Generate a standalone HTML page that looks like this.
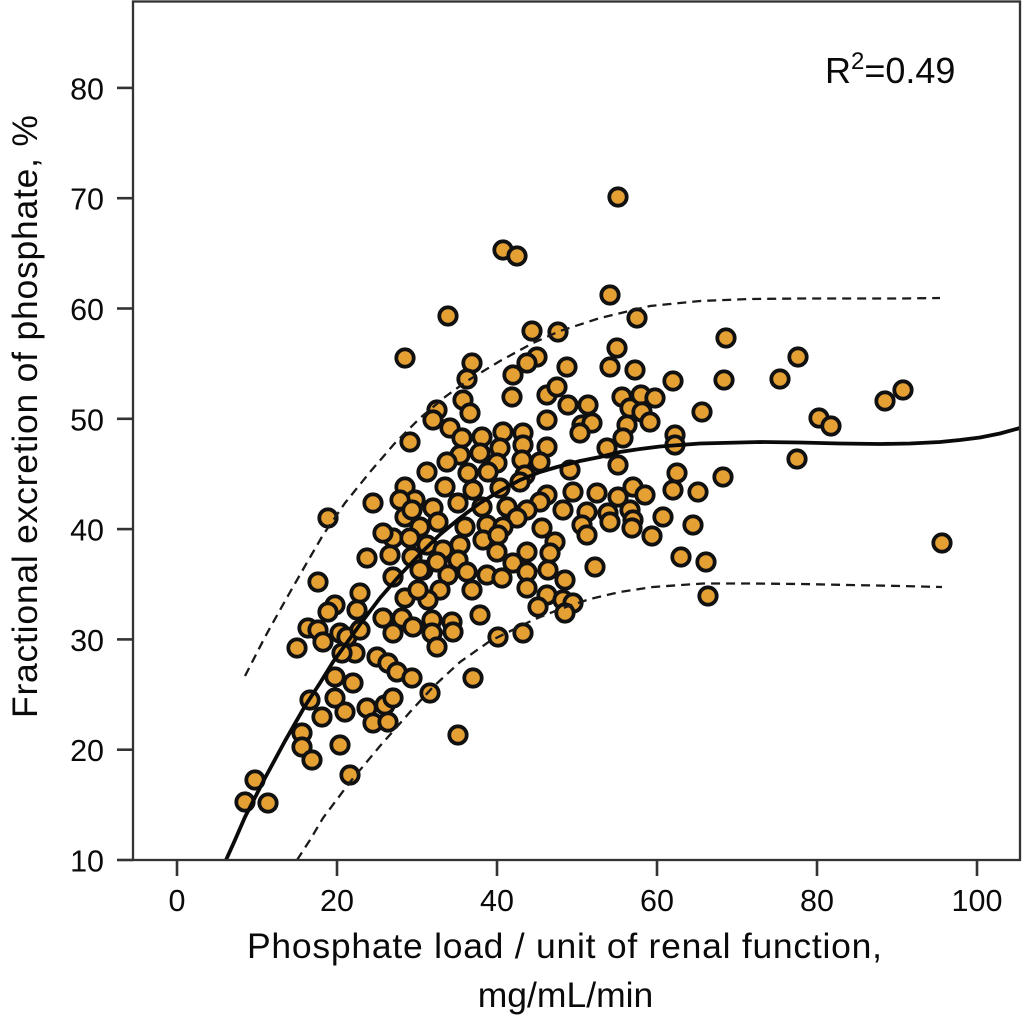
<!DOCTYPE html>
<html>
<head>
<meta charset="utf-8">
<style>
  html,body{margin:0;padding:0;background:#fff;}
  svg{display:block;}
  text{font-family:"Liberation Sans", Arial, sans-serif; fill:#0a0a0a;}
</style>
</head>
<body>
<svg width="1024" height="1022" viewBox="0 0 1024 1022" xmlns="http://www.w3.org/2000/svg">
  <rect x="0" y="0" width="1024" height="1022" fill="#fff"/>

  <g fill="#E5A034" stroke="#111" stroke-width="3.8">
    <circle cx="618" cy="197" r="8.7"/>
    <circle cx="503" cy="250" r="8.7"/>
    <circle cx="517" cy="256" r="8.7"/>
    <circle cx="610" cy="295" r="8.7"/>
    <circle cx="448" cy="316" r="8.7"/>
    <circle cx="532" cy="331" r="8.7"/>
    <circle cx="558" cy="332" r="8.7"/>
    <circle cx="637" cy="318" r="8.7"/>
    <circle cx="405" cy="358" r="8.7"/>
    <circle cx="472" cy="363" r="8.7"/>
    <circle cx="467" cy="379" r="8.7"/>
    <circle cx="537" cy="357" r="8.7"/>
    <circle cx="527" cy="363" r="8.7"/>
    <circle cx="513" cy="375" r="8.7"/>
    <circle cx="567" cy="367" r="8.7"/>
    <circle cx="617" cy="348" r="8.7"/>
    <circle cx="610" cy="367" r="8.7"/>
    <circle cx="635" cy="370" r="8.7"/>
    <circle cx="512" cy="397" r="8.7"/>
    <circle cx="547" cy="395" r="8.7"/>
    <circle cx="557" cy="387" r="8.7"/>
    <circle cx="568" cy="405" r="8.7"/>
    <circle cx="588" cy="405" r="8.7"/>
    <circle cx="463" cy="400" r="8.7"/>
    <circle cx="470" cy="413" r="8.7"/>
    <circle cx="437" cy="410" r="8.7"/>
    <circle cx="433" cy="420" r="8.7"/>
    <circle cx="410" cy="442" r="8.7"/>
    <circle cx="450" cy="428" r="8.7"/>
    <circle cx="462" cy="438" r="8.7"/>
    <circle cx="582" cy="425" r="8.7"/>
    <circle cx="592" cy="423" r="8.7"/>
    <circle cx="580" cy="433" r="8.7"/>
    <circle cx="622" cy="397" r="8.7"/>
    <circle cx="630" cy="408" r="8.7"/>
    <circle cx="627" cy="425" r="8.7"/>
    <circle cx="623" cy="438" r="8.7"/>
    <circle cx="607" cy="448" r="8.7"/>
    <circle cx="618" cy="465" r="8.7"/>
    <circle cx="482" cy="437" r="8.7"/>
    <circle cx="503" cy="432" r="8.7"/>
    <circle cx="523" cy="433" r="8.7"/>
    <circle cx="547" cy="420" r="8.7"/>
    <circle cx="547" cy="447" r="8.7"/>
    <circle cx="523" cy="445" r="8.7"/>
    <circle cx="500" cy="448" r="8.7"/>
    <circle cx="480" cy="453" r="8.7"/>
    <circle cx="460" cy="455" r="8.7"/>
    <circle cx="447" cy="462" r="8.7"/>
    <circle cx="540" cy="462" r="8.7"/>
    <circle cx="522" cy="460" r="8.7"/>
    <circle cx="497" cy="463" r="8.7"/>
    <circle cx="570" cy="470" r="8.7"/>
    <circle cx="427" cy="472" r="8.7"/>
    <circle cx="468" cy="473" r="8.7"/>
    <circle cx="488" cy="472" r="8.7"/>
    <circle cx="525" cy="475" r="8.7"/>
    <circle cx="405" cy="487" r="8.7"/>
    <circle cx="445" cy="487" r="8.7"/>
    <circle cx="473" cy="490" r="8.7"/>
    <circle cx="500" cy="488" r="8.7"/>
    <circle cx="520" cy="482" r="8.7"/>
    <circle cx="547" cy="495" r="8.7"/>
    <circle cx="573" cy="492" r="8.7"/>
    <circle cx="597" cy="493" r="8.7"/>
    <circle cx="618" cy="497" r="8.7"/>
    <circle cx="633" cy="487" r="8.7"/>
    <circle cx="630" cy="510" r="8.7"/>
    <circle cx="608" cy="513" r="8.7"/>
    <circle cx="587" cy="512" r="8.7"/>
    <circle cx="563" cy="510" r="8.7"/>
    <circle cx="540" cy="502" r="8.7"/>
    <circle cx="527" cy="510" r="8.7"/>
    <circle cx="507" cy="507" r="8.7"/>
    <circle cx="482" cy="507" r="8.7"/>
    <circle cx="458" cy="503" r="8.7"/>
    <circle cx="433" cy="508" r="8.7"/>
    <circle cx="415" cy="500" r="8.7"/>
    <circle cx="405" cy="517" r="8.7"/>
    <circle cx="438" cy="522" r="8.7"/>
    <circle cx="465" cy="527" r="8.7"/>
    <circle cx="487" cy="525" r="8.7"/>
    <circle cx="517" cy="518" r="8.7"/>
    <circle cx="542" cy="528" r="8.7"/>
    <circle cx="582" cy="525" r="8.7"/>
    <circle cx="633" cy="520" r="8.7"/>
    <circle cx="420" cy="527" r="8.7"/>
    <circle cx="328" cy="518" r="8.7"/>
    <circle cx="373" cy="503" r="8.7"/>
    <circle cx="400" cy="500" r="8.7"/>
    <circle cx="412" cy="510" r="8.7"/>
    <circle cx="393" cy="538" r="8.7"/>
    <circle cx="410" cy="538" r="8.7"/>
    <circle cx="942" cy="543" r="8.7"/>
    <circle cx="903" cy="390" r="8.7"/>
    <circle cx="885" cy="401" r="8.7"/>
    <circle cx="798" cy="357" r="8.7"/>
    <circle cx="780" cy="379" r="8.7"/>
    <circle cx="819" cy="418" r="8.7"/>
    <circle cx="831" cy="426" r="8.7"/>
    <circle cx="797" cy="459" r="8.7"/>
    <circle cx="726" cy="338" r="8.7"/>
    <circle cx="724" cy="380" r="8.7"/>
    <circle cx="702" cy="412" r="8.7"/>
    <circle cx="673" cy="381" r="8.7"/>
    <circle cx="641" cy="395" r="8.7"/>
    <circle cx="655" cy="398" r="8.7"/>
    <circle cx="642" cy="412" r="8.7"/>
    <circle cx="650" cy="422" r="8.7"/>
    <circle cx="675" cy="435" r="8.7"/>
    <circle cx="675" cy="445" r="8.7"/>
    <circle cx="677" cy="473" r="8.7"/>
    <circle cx="673" cy="490" r="8.7"/>
    <circle cx="698" cy="492" r="8.7"/>
    <circle cx="723" cy="477" r="8.7"/>
    <circle cx="645" cy="495" r="8.7"/>
    <circle cx="663" cy="517" r="8.7"/>
    <circle cx="632" cy="528" r="8.7"/>
    <circle cx="652" cy="536" r="8.7"/>
    <circle cx="693" cy="525" r="8.7"/>
    <circle cx="681" cy="557" r="8.7"/>
    <circle cx="706" cy="562" r="8.7"/>
    <circle cx="708" cy="596" r="8.7"/>
    <circle cx="503" cy="527" r="8.7"/>
    <circle cx="587" cy="535" r="8.7"/>
    <circle cx="610" cy="522" r="8.7"/>
    <circle cx="595" cy="567" r="8.7"/>
    <circle cx="427" cy="545" r="8.7"/>
    <circle cx="443" cy="550" r="8.7"/>
    <circle cx="460" cy="545" r="8.7"/>
    <circle cx="483" cy="540" r="8.7"/>
    <circle cx="498" cy="535" r="8.7"/>
    <circle cx="497" cy="552" r="8.7"/>
    <circle cx="527" cy="552" r="8.7"/>
    <circle cx="555" cy="542" r="8.7"/>
    <circle cx="550" cy="553" r="8.7"/>
    <circle cx="423" cy="570" r="8.7"/>
    <circle cx="437" cy="562" r="8.7"/>
    <circle cx="458" cy="560" r="8.7"/>
    <circle cx="448" cy="575" r="8.7"/>
    <circle cx="467" cy="572" r="8.7"/>
    <circle cx="487" cy="575" r="8.7"/>
    <circle cx="502" cy="578" r="8.7"/>
    <circle cx="513" cy="563" r="8.7"/>
    <circle cx="527" cy="572" r="8.7"/>
    <circle cx="548" cy="570" r="8.7"/>
    <circle cx="565" cy="580" r="8.7"/>
    <circle cx="440" cy="590" r="8.7"/>
    <circle cx="428" cy="600" r="8.7"/>
    <circle cx="472" cy="590" r="8.7"/>
    <circle cx="527" cy="588" r="8.7"/>
    <circle cx="547" cy="595" r="8.7"/>
    <circle cx="563" cy="600" r="8.7"/>
    <circle cx="573" cy="603" r="8.7"/>
    <circle cx="565" cy="613" r="8.7"/>
    <circle cx="538" cy="607" r="8.7"/>
    <circle cx="480" cy="615" r="8.7"/>
    <circle cx="432" cy="620" r="8.7"/>
    <circle cx="452" cy="622" r="8.7"/>
    <circle cx="432" cy="633" r="8.7"/>
    <circle cx="453" cy="632" r="8.7"/>
    <circle cx="437" cy="647" r="8.7"/>
    <circle cx="498" cy="637" r="8.7"/>
    <circle cx="523" cy="633" r="8.7"/>
    <circle cx="473" cy="678" r="8.7"/>
    <circle cx="430" cy="693" r="8.7"/>
    <circle cx="458" cy="735" r="8.7"/>
    <circle cx="383" cy="533" r="8.7"/>
    <circle cx="390" cy="555" r="8.7"/>
    <circle cx="412" cy="557" r="8.7"/>
    <circle cx="393" cy="577" r="8.7"/>
    <circle cx="420" cy="570" r="8.7"/>
    <circle cx="405" cy="598" r="8.7"/>
    <circle cx="418" cy="590" r="8.7"/>
    <circle cx="402" cy="618" r="8.7"/>
    <circle cx="367" cy="558" r="8.7"/>
    <circle cx="318" cy="582" r="8.7"/>
    <circle cx="335" cy="605" r="8.7"/>
    <circle cx="328" cy="612" r="8.7"/>
    <circle cx="360" cy="593" r="8.7"/>
    <circle cx="357" cy="610" r="8.7"/>
    <circle cx="308" cy="628" r="8.7"/>
    <circle cx="318" cy="630" r="8.7"/>
    <circle cx="323" cy="642" r="8.7"/>
    <circle cx="297" cy="648" r="8.7"/>
    <circle cx="340" cy="633" r="8.7"/>
    <circle cx="347" cy="637" r="8.7"/>
    <circle cx="360" cy="630" r="8.7"/>
    <circle cx="355" cy="653" r="8.7"/>
    <circle cx="342" cy="653" r="8.7"/>
    <circle cx="377" cy="657" r="8.7"/>
    <circle cx="383" cy="618" r="8.7"/>
    <circle cx="393" cy="633" r="8.7"/>
    <circle cx="413" cy="627" r="8.7"/>
    <circle cx="388" cy="663" r="8.7"/>
    <circle cx="397" cy="672" r="8.7"/>
    <circle cx="412" cy="678" r="8.7"/>
    <circle cx="335" cy="677" r="8.7"/>
    <circle cx="353" cy="683" r="8.7"/>
    <circle cx="310" cy="700" r="8.7"/>
    <circle cx="335" cy="698" r="8.7"/>
    <circle cx="345" cy="712" r="8.7"/>
    <circle cx="322" cy="717" r="8.7"/>
    <circle cx="367" cy="708" r="8.7"/>
    <circle cx="385" cy="705" r="8.7"/>
    <circle cx="393" cy="698" r="8.7"/>
    <circle cx="373" cy="723" r="8.7"/>
    <circle cx="388" cy="722" r="8.7"/>
    <circle cx="302" cy="733" r="8.7"/>
    <circle cx="302" cy="747" r="8.7"/>
    <circle cx="312" cy="760" r="8.7"/>
    <circle cx="340" cy="745" r="8.7"/>
    <circle cx="350" cy="775" r="8.7"/>
    <circle cx="255" cy="780" r="8.7"/>
    <circle cx="245" cy="802" r="8.7"/>
    <circle cx="268" cy="803" r="8.7"/>
  </g>

  <polyline fill="none" stroke="#0a0a0a" stroke-width="3.8" stroke-linejoin="round"
    points="226,860 235,840 245,817 265,778 285,741 305,706 320,683 333,662 360,624.5 380,598 400,575 420,554 440,534.5 460,518 480,503 500,491 520,480 540,472 557,467 580,461 600,457 620,452 640,449 660,446.5 680,445 700,443.5 720,443 760,442 800,442.5 840,443.5 880,444 910,443.5 940,442 960,440 980,437.5 1000,433.5 1020,428"/>

  <polyline fill="none" stroke="#1a1a1a" stroke-width="2.3" stroke-dasharray="9 6"
    points="245,676 265,637 285,601 305,566 323,535 345,503 370,472 395,443 420,418 445,397 467,381 500,361 533,343 560,331 600,318 650,306 700,301 750,299 800,298.5 850,298.5 900,298.5 940,298"/>

  <polyline fill="none" stroke="#1a1a1a" stroke-width="2.3" stroke-dasharray="9 6"
    points="297,860 310,840 323,818 350,782 380,746 410,712 433,687 460,662 490,641 533,620 560,609 590,599 620,592 653,587 703,583.5 750,583.5 800,584 850,585 900,586 942,587"/>

  <rect x="133" y="1.5" width="887" height="858.5" fill="none" stroke="#333" stroke-width="2.3"/>

  <g stroke="#333" stroke-width="2.6">
    <line x1="117" y1="87.9" x2="133" y2="87.9"/>
    <line x1="117" y1="198.2" x2="133" y2="198.2"/>
    <line x1="117" y1="308.5" x2="133" y2="308.5"/>
    <line x1="117" y1="418.8" x2="133" y2="418.8"/>
    <line x1="117" y1="529.1" x2="133" y2="529.1"/>
    <line x1="117" y1="639.4" x2="133" y2="639.4"/>
    <line x1="117" y1="749.7" x2="133" y2="749.7"/>
    <line x1="117" y1="860" x2="133" y2="860"/>
    <line x1="177" y1="860" x2="177" y2="876"/>
    <line x1="337" y1="860" x2="337" y2="876"/>
    <line x1="497" y1="860" x2="497" y2="876"/>
    <line x1="657" y1="860" x2="657" y2="876"/>
    <line x1="817" y1="860" x2="817" y2="876"/>
    <line x1="977" y1="860" x2="977" y2="876"/>
  </g>

  <g font-size="30.5" text-anchor="end">
    <text x="104" y="99.5">80</text>
    <text x="104" y="209.7">70</text>
    <text x="104" y="320">60</text>
    <text x="104" y="430.3">50</text>
    <text x="104" y="540.6">40</text>
    <text x="104" y="650.9">30</text>
    <text x="104" y="761.2">20</text>
    <text x="104" y="871.5">10</text>
  </g>
  <g font-size="30.5" text-anchor="middle">
    <text x="177" y="911">0</text>
    <text x="337" y="911">20</text>
    <text x="497" y="911">40</text>
    <text x="657" y="911">60</text>
    <text x="817" y="911">80</text>
    <text x="977" y="911">100</text>
  </g>

  <text x="825" y="83" font-size="36">R<tspan font-size="24" dy="-14">2</tspan><tspan font-size="36" dy="14">=0.49</tspan></text>

  <text x="564.5" y="958" font-size="35.5" text-anchor="middle" textLength="635" lengthAdjust="spacing">Phosphate load / unit of renal function,</text>
  <text x="565.5" y="1007" font-size="35.5" text-anchor="middle">mg/mL/min</text>
  <text transform="translate(37,416.5) rotate(-90)" font-size="35.5" text-anchor="middle" textLength="603" lengthAdjust="spacing">Fractional excretion of phosphate, %</text>
</svg>
</body>
</html>
